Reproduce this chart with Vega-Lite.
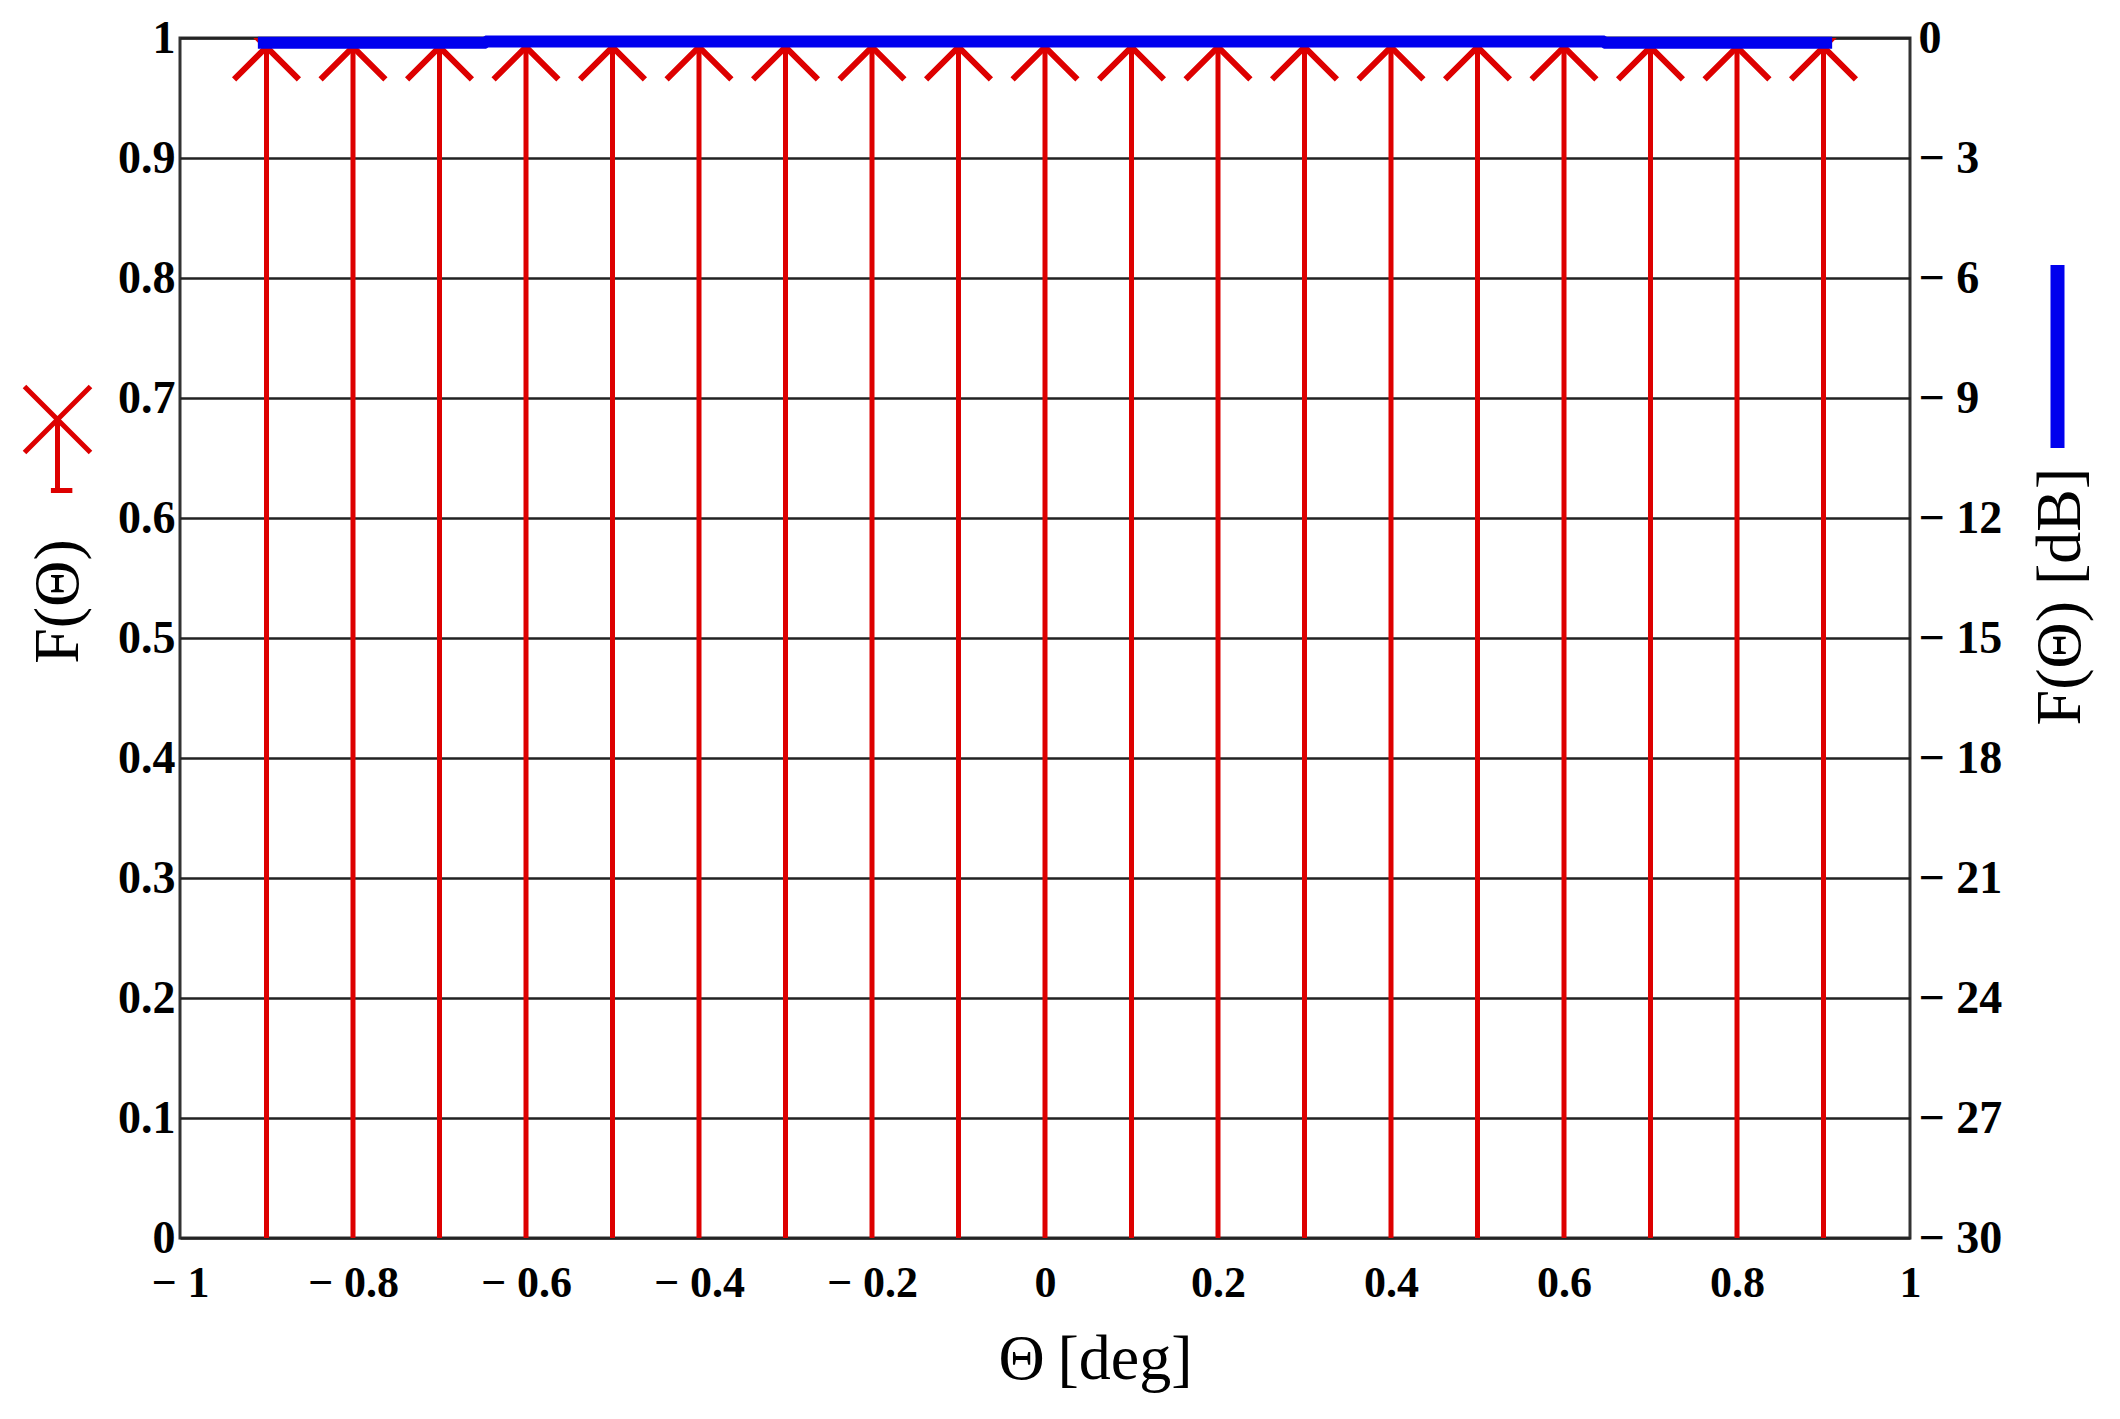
{
  "$schema": "https://vega.github.io/schema/vega-lite/v6.json",
  "width": 1730,
  "height": 1200,
  "autosize": {"type": "none"},
  "padding": {"left": 180, "top": 38, "right": 210, "bottom": 181},
  "background": "white",
  "config": {
    "view": {"stroke": "#333333", "strokeWidth": 3},
    "font": "Liberation Serif",
    "axis": {
      "labelFont": "Liberation Serif",
      "titleFont": "Liberation Serif",
      "labelColor": "black",
      "titleColor": "black",
      "titleFontWeight": "normal",
      "labelFontWeight": "bold",
      "ticks": false,
      "domain": false,
      "grid": false,
      "labelFlush": false,
      "labelOverlap": false,
      "labelBound": false
    },
    "legend": {"padding": 0}
  },
  "datasets": {
    "stems": [
      {"theta": -0.9, "F": 0.9925},
      {"theta": -0.8, "F": 0.9925},
      {"theta": -0.7, "F": 0.9925},
      {"theta": -0.6, "F": 0.9925},
      {"theta": -0.5, "F": 0.9925},
      {"theta": -0.4, "F": 0.9925},
      {"theta": -0.3, "F": 0.9925},
      {"theta": -0.2, "F": 0.9925},
      {"theta": -0.1, "F": 0.9925},
      {"theta": 0.0, "F": 0.9925},
      {"theta": 0.1, "F": 0.9925},
      {"theta": 0.2, "F": 0.9925},
      {"theta": 0.3, "F": 0.9925},
      {"theta": 0.4, "F": 0.9925},
      {"theta": 0.5, "F": 0.9925},
      {"theta": 0.6, "F": 0.9925},
      {"theta": 0.7, "F": 0.9925},
      {"theta": 0.8, "F": 0.9925},
      {"theta": 0.9, "F": 0.9925}
    ],
    "pattern": [
      {"theta": -0.91, "dB": -0.12},
      {"theta": -0.648, "dB": -0.12},
      {"theta": -0.645, "dB": -0.085},
      {"theta": 0.0, "dB": -0.085},
      {"theta": 0.645, "dB": -0.085},
      {"theta": 0.648, "dB": -0.12},
      {"theta": 0.91, "dB": -0.12}
    ]
  },
  "layer": [
    {
      "data": {"name": "stems"},
      "layer": [
        {
          "mark": {"type": "rule", "color": "#dd0000", "strokeWidth": 5},
          "encoding": {
            "x": {
              "field": "theta",
              "type": "quantitative",
              "scale": {"domain": [-1, 1], "nice": false, "zero": false},
              "axis": {
                "orient": "bottom",
                "values": [-1, -0.8, -0.6, -0.4, -0.2, 0, 0.2, 0.4, 0.6, 0.8, 1],
                "labelExpr": "datum.value < 0 ? '\u2212 ' + format(-datum.value, '~g') : format(datum.value, '~g')",
                "labelFontSize": 44,
                "labelPadding": 23,
                "title": "\u0398\u2009[deg]",
                "titleFontSize": 64,
                "titleX": 915,
                "titleY": 140,
                "titleAlign": "center",
                "titleBaseline": "alphabetic"
              }
            },
            "y": {
              "field": "F",
              "type": "quantitative",
              "scale": {"domain": [0, 1], "nice": false, "zero": false},
              "axis": {
                "orient": "left",
                "values": [0, 0.1, 0.2, 0.3, 0.4, 0.5, 0.6, 0.7, 0.8, 0.9, 1],
                "format": "~g",
                "labelFontSize": 46,
                "labelPadding": 5,
                "grid": true,
                "gridColor": "#222222",
                "gridWidth": 2.5,
                "title": "F(\u0398)",
                "titleFontSize": 64,
                "titleAngle": 270,
                "titleX": -122,
                "titleY": 563,
                "titleAlign": "center",
                "titleBaseline": "middle"
              }
            },
            "y2": {"datum": 0}
          }
        },
        {
          "mark": {
            "type": "point",
            "shape": "M-1,-1L1,1M1,-1L-1,1",
            "size": 4200,
            "filled": false,
            "stroke": "#dd0000",
            "strokeWidth": 6,
            "opacity": 1,
            "clip": true
          },
          "encoding": {
            "x": {"field": "theta", "type": "quantitative"},
            "y": {"field": "F", "type": "quantitative"}
          }
        },
        {
          "mark": {"type": "point", "opacity": 0, "filled": false},
          "encoding": {
            "x": {"field": "theta", "type": "quantitative"},
            "y": {"field": "F", "type": "quantitative"},
            "shape": {
              "datum": "F",
              "scale": {"range": ["M-1,-1L1,1M1,-1L-1,1M0,0L0,2.15M-0.2,2.15L0.45,2.15"]},
              "legend": {
                "orient": "none",
                "legendX": -158,
                "legendY": 346,
                "title": null,
                "labelExpr": "''",
                "symbolSize": 4356,
                "symbolStrokeColor": "#dd0000",
                "symbolFillColor": "transparent",
                "symbolStrokeWidth": 5,
                "symbolOpacity": 1
              }
            }
          }
        }
      ]
    },
    {
      "data": {"name": "pattern"},
      "mark": {"type": "line", "strokeWidth": 12},
      "encoding": {
        "x": {"field": "theta", "type": "quantitative"},
        "y": {
          "field": "dB",
          "type": "quantitative",
          "scale": {"domain": [-30, 0], "nice": false, "zero": false},
          "axis": {
            "orient": "right",
            "values": [-30, -27, -24, -21, -18, -15, -12, -9, -6, -3, 0],
            "labelExpr": "datum.value == 0 ? '0' : '\u2212 ' + abs(datum.value)",
            "labelFontSize": 46,
            "labelPadding": 8,
            "title": "F(\u0398) [dB]",
            "titleFontSize": 64,
            "titleAngle": 270,
            "titleX": 150,
            "titleY": 558,
            "titleAlign": "center",
            "titleBaseline": "middle"
          }
        },
        "color": {
          "datum": "dB",
          "scale": {"range": ["#0000ee"]},
          "legend": {
            "orient": "none",
            "legendX": 1779,
            "legendY": 220,
            "title": null,
            "labelExpr": "''",
            "symbolType": "M0,-1L0,1",
            "symbolSize": 33489,
            "symbolStrokeWidth": 14,
            "symbolStrokeColor": "#0000ee"
          }
        }
      }
    }
  ],
  "resolve": {"scale": {"y": "independent"}}
}
